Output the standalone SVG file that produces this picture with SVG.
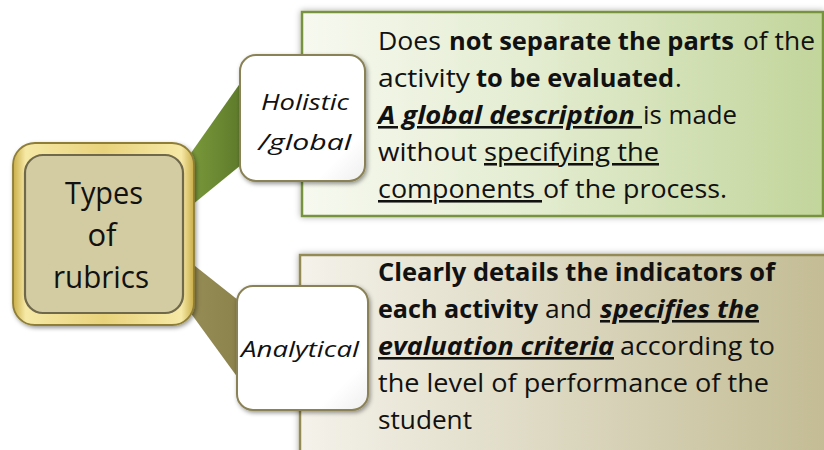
<svg xmlns="http://www.w3.org/2000/svg" width="824" height="450" viewBox="0 0 824 450">
<defs>
<linearGradient id="gGreen" x1="0" y1="0" x2="1" y2="0">
<stop offset="0" stop-color="#f7f9f0"/>
<stop offset="0.45" stop-color="#e3ecd0"/>
<stop offset="1" stop-color="#c2d59b"/>
</linearGradient>
<linearGradient id="gOlive" x1="0" y1="0" x2="1" y2="0">
<stop offset="0" stop-color="#f4f2ea"/>
<stop offset="0.45" stop-color="#dedac4"/>
<stop offset="1" stop-color="#c3bc94"/>
</linearGradient>
<linearGradient id="gConnG" x1="0" y1="0" x2="1" y2="0">
<stop offset="0" stop-color="#7c9c3c"/>
<stop offset="1" stop-color="#5e7a2b"/>
</linearGradient>
<linearGradient id="gConnO" x1="0" y1="0" x2="1" y2="0">
<stop offset="0" stop-color="#968c56"/>
<stop offset="1" stop-color="#8c824c"/>
</linearGradient>
<linearGradient id="gGold" x1="0" y1="0" x2="1" y2="0">
<stop offset="0" stop-color="#c9ad48"/>
<stop offset="0.07" stop-color="#f6e9a6"/>
<stop offset="0.5" stop-color="#e8d27c"/>
<stop offset="0.93" stop-color="#f6e9a6"/>
<stop offset="1" stop-color="#c9ad48"/>
</linearGradient>
<linearGradient id="gNode" x1="0" y1="0" x2="1" y2="1">
<stop offset="0" stop-color="#ffffff"/>
<stop offset="0.8" stop-color="#ffffff"/>
<stop offset="1" stop-color="#eeeeee"/>
</linearGradient>
<filter id="shBox" x="-10%" y="-10%" width="120%" height="120%">
<feDropShadow dx="0" dy="0" stdDeviation="3" flood-color="#000" flood-opacity="0.35"/>
</filter>
<filter id="shNode" x="-20%" y="-20%" width="140%" height="140%">
<feDropShadow dx="1.5" dy="2" stdDeviation="2" flood-color="#000" flood-opacity="0.4"/>
</filter>
</defs>
<style>
text { font-family: "Open Sans", "Liberation Sans", sans-serif; fill: #111; }
.body { font-size: 25.5px; white-space: pre; }
.b { font-weight: 700; }
.bi { font-weight: 700; font-style: italic; text-decoration: underline; }
.u { text-decoration: underline; }
.lbl { font-size: 22px; font-style: italic; text-anchor: middle; }
.ctr { font-size: 31px; text-anchor: middle; }
.node { fill: url(#gNode); stroke: #8a8256; stroke-width: 2; }
</style>

<g id="holistic-desc">
<rect x="302" y="12" width="521" height="204" fill="url(#gGreen)" stroke="#77933c" stroke-width="2.5" filter="url(#shBox)"/>
<text class="body" x="378" y="50" textLength="63" lengthAdjust="spacingAndGlyphs">Does</text>
<text class="body b" x="449" y="50" textLength="285" lengthAdjust="spacingAndGlyphs">not separate the parts</text>
<text class="body" x="743" y="50" textLength="72" lengthAdjust="spacingAndGlyphs">of the</text>
<text class="body" x="378" y="87" textLength="92" lengthAdjust="spacingAndGlyphs">activity</text>
<text class="body b" x="476" y="87" textLength="198" lengthAdjust="spacingAndGlyphs">to be evaluated</text>
<text class="body" x="675" y="87">.</text>
<text class="body bi" x="378" y="124" textLength="264" lengthAdjust="spacingAndGlyphs">A global description </text>
<text class="body" x="643" y="124" textLength="94" lengthAdjust="spacingAndGlyphs">is made</text>
<text class="body" x="378" y="161" textLength="99" lengthAdjust="spacingAndGlyphs">without</text>
<text class="body u" x="484" y="161" textLength="175" lengthAdjust="spacingAndGlyphs">specifying the</text>
<text class="body u" x="378" y="198" textLength="164" lengthAdjust="spacingAndGlyphs">components </text>
<text class="body" x="543" y="198" textLength="184" lengthAdjust="spacingAndGlyphs">of the process.</text>
</g>

<g id="analytical-desc">
<rect x="300" y="255" width="526" height="200" fill="url(#gOlive)" stroke="#948a54" stroke-width="2.5" filter="url(#shBox)"/>
<text class="body b" x="378" y="281" textLength="397" lengthAdjust="spacingAndGlyphs">Clearly details the indicators of</text>
<text class="body b" x="378" y="318" textLength="160" lengthAdjust="spacingAndGlyphs">each activity</text>
<text class="body" x="545" y="318" textLength="47" lengthAdjust="spacingAndGlyphs">and</text>
<text class="body bi" x="600" y="318" textLength="159" lengthAdjust="spacingAndGlyphs">specifies the</text>
<text class="body bi" x="378" y="355" textLength="236" lengthAdjust="spacingAndGlyphs">evaluation criteria</text>
<text class="body" x="620" y="355" textLength="155" lengthAdjust="spacingAndGlyphs">according to</text>
<text class="body" x="378" y="392" textLength="391" lengthAdjust="spacingAndGlyphs">the level of performance of the</text>
<text class="body" x="378" y="429" textLength="94" lengthAdjust="spacingAndGlyphs">student</text>
</g>

<g id="connectors">
<polygon points="186,160 241,82 241,165 192,205" fill="url(#gConnG)"/>
<polygon points="190,262 238,300 238,378 187,308" fill="url(#gConnO)"/>
</g>

<g id="types-of-rubrics">
<rect x="13" y="143" width="181" height="182" rx="22" fill="url(#gGold)" stroke="#8f7e36" stroke-width="1.8" filter="url(#shNode)"/>
<rect x="25" y="155" width="158" height="158" rx="18" fill="#d3cba1" stroke="#6f684a" stroke-width="2.2"/>
<text class="ctr" x="104" y="204" textLength="78" lengthAdjust="spacingAndGlyphs">Types</text>
<text class="ctr" x="102" y="246">of</text>
<text class="ctr" x="101" y="288" textLength="96" lengthAdjust="spacingAndGlyphs">rubrics</text>
</g>

<g id="holistic">
<rect class="node" x="240" y="55" width="125" height="126" rx="16" filter="url(#shNode)"/>
<text class="lbl" x="305" y="110" textLength="88" lengthAdjust="spacingAndGlyphs">Holistic</text>
<text class="lbl" x="305" y="150" textLength="93" lengthAdjust="spacingAndGlyphs">/global</text>
</g>

<g id="analytical">
<rect class="node" x="237" y="286" width="131" height="124" rx="16" filter="url(#shNode)"/>
<text class="lbl" x="300" y="357" textLength="118" lengthAdjust="spacingAndGlyphs">Analytical</text>
</g>
</svg>
